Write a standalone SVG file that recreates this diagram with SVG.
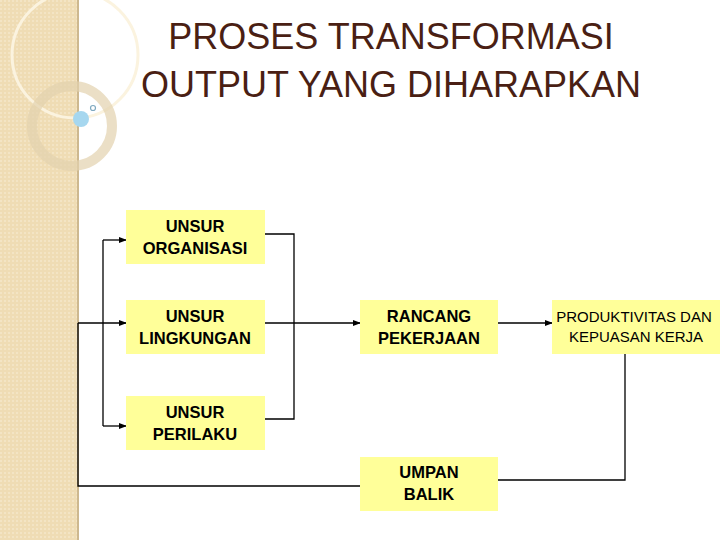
<svg xmlns="http://www.w3.org/2000/svg" width="720" height="540" viewBox="0 0 720 540">
<defs>
<marker id="a" markerWidth="8" markerHeight="6" refX="7" refY="3" orient="auto" markerUnits="userSpaceOnUse"><path d="M0,0 L8,3 L0,6 z" fill="#000"/></marker>
<pattern id="p" width="4" height="4" patternUnits="userSpaceOnUse"><rect width="4" height="4" fill="#efdcb4"/><rect width="2" height="2" fill="#f3e4c4"/></pattern>
</defs>
<style>
.b{fill:#ffff99}
.t{font-family:"Liberation Sans",Arial,sans-serif;font-size:16.5px;font-weight:bold;text-anchor:middle}
.n{font-family:"Liberation Sans",Arial,sans-serif;font-size:15px;text-anchor:middle}
.c{fill:none;stroke:#000;stroke-width:1.3}
.h{font-family:"Liberation Sans",Arial,sans-serif;font-size:36px;fill:#4a1f14;text-anchor:middle}
</style>
<rect width="720" height="540" fill="#fff"/>
<rect x="0" y="0" width="78" height="540" fill="url(#p)"/>
<line x1="78" y1="0" x2="78" y2="540" stroke="#cdb88f" stroke-width="2"/>
<circle cx="75" cy="55" r="63" fill="none" stroke="#fbf3df" stroke-width="3"/>
<circle cx="72" cy="126" r="40" fill="none" stroke="#e2d1ae" stroke-width="10" opacity="0.7"/>
<circle cx="81" cy="119" r="8" fill="#a6d7ef"/>
<circle cx="93" cy="108" r="2.5" fill="none" stroke="#7fa9c0" stroke-width="1.2"/>
<text class="h" x="391" y="49">PROSES TRANSFORMASI</text>
<text class="h" x="391" y="97">OUTPUT YANG DIHARAPKAN</text>
<g id="connectors">
<path class="c" d="M78,323 V486 H360"/>
<path class="c" d="M103,240 V426"/>
<path class="c" d="M103,240 H126" marker-end="url(#a)"/>
<path class="c" d="M78,323 H126" marker-end="url(#a)"/>
<path class="c" d="M103,426 H126" marker-end="url(#a)"/>
<path class="c" d="M265,234 H294 V419 H265"/>
<path class="c" d="M265,323 H360" marker-end="url(#a)"/>
<path class="c" d="M498,323 H552" marker-end="url(#a)"/>
<path class="c" d="M625,354 V480 H498"/>
</g>
<g id="org"><rect class="b" x="126" y="210" width="139" height="54"/><text class="t" x="195" y="232">UNSUR</text><text class="t" x="195" y="254">ORGANISASI</text></g>
<g id="ling"><rect class="b" x="126" y="300" width="139" height="54"/><text class="t" x="195" y="322">UNSUR</text><text class="t" x="195" y="344">LINGKUNGAN</text></g>
<g id="per"><rect class="b" x="126" y="396" width="139" height="54"/><text class="t" x="195" y="418">UNSUR</text><text class="t" x="195" y="440">PERILAKU</text></g>
<g id="rancang"><rect class="b" x="360" y="300" width="138" height="54"/><text class="t" x="429" y="322">RANCANG</text><text class="t" x="429" y="344">PEKERJAAN</text></g>
<g id="prod"><rect class="b" x="552" y="300" width="168" height="54"/><text class="n" x="634" y="322">PRODUKTIVITAS DAN</text><text class="n" x="636" y="342">KEPUASAN KERJA</text></g>
<g id="umpan"><rect class="b" x="360" y="457" width="138" height="54"/><text class="t" x="429" y="478">UMPAN</text><text class="t" x="429" y="500">BALIK</text></g>
</svg>
